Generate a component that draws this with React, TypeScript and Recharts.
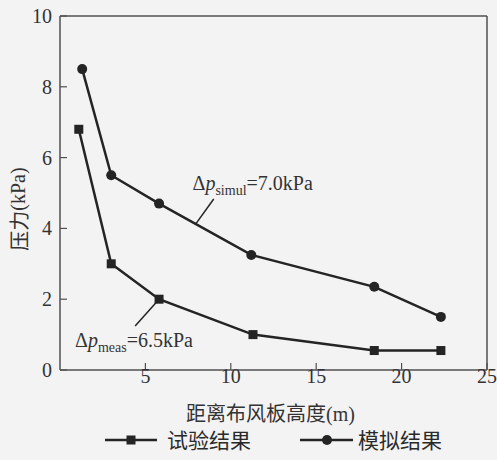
import React from 'react';
import { LineChart, Line, XAxis, YAxis, ReferenceLine, ReferenceDot } from 'recharts';

const heightsMeas = [1.1, 3.0, 5.8, 11.3, 18.4, 22.3];
const pressureMeas = [6.8, 3.0, 2.0, 1.0, 0.55, 0.55];
const heightsSimul = [1.3, 3.0, 5.8, 11.2, 18.4, 22.3];
const pressureSimul = [8.5, 5.5, 4.7, 3.25, 2.35, 1.5];
const xTicks = [5, 10, 15, 20, 25];
const yTicks = [0, 2, 4, 6, 8, 10];
const seriesNames = ['试验结果', '模拟结果'];
const xLabelText = '距离布风板高度';
const xLabelUnit = '(m)';
const yLabelText = '压力';
const yLabelUnit = '(kPa)';

const measData = heightsMeas.map((x, i) => ({ x, y: pressureMeas[i] }));
const simulData = heightsSimul.map((x, i) => ({ x, y: pressureSimul[i] }));

const INK = '#242424';
const AXIS = '#505050';
const SERIF = 'Liberation Serif';
const CJK = 'Noto Sans CJK SC';

const SquareDot = (p: any) => (
  <rect x={p.cx - 4.5} y={p.cy - 4.5} width={9} height={9} fill={INK} />
);
const CircleDot = (p: any) => <circle cx={p.cx} cy={p.cy} r={5} fill={INK} />;

const Annot = (sub: string, val: string) => (p: any) => (
  <text x={p.cx} y={p.cy} fontFamily={SERIF} fontSize={20} fill="#333">
    <tspan>Δ</tspan>
    <tspan fontStyle="italic">p</tspan>
    <tspan fontSize={14} dy={5}>{sub}</tspan>
    <tspan dy={-5}>{val}</tspan>
  </text>
);

const XTick = (p: any) => (
  <text x={p.x} y={p.y + 7} textAnchor="middle" fontFamily={SERIF} fontSize={20} fill="#333">
    {p.payload.value}
  </text>
);
const YTick = (p: any) => (
  <text x={p.x + 2} y={p.y + 7} textAnchor="end" fontFamily={SERIF} fontSize={20} fill="#333">
    {p.payload.value}
  </text>
);

const LegendBox = () => (
  <svg width={497} height={30} style={{ position: 'absolute', left: 0, top: 425 }}>
    <line x1={105} y1={15} x2={157} y2={15} stroke={INK} strokeWidth={2.5} />
    <rect x={126.5} y={10.5} width={9} height={9} fill={INK} />
    <text x={167} y={23} fontFamily={CJK} fontSize={21} fill="#2a2a2a">{seriesNames[0]}</text>
    <line x1={300} y1={15} x2={353} y2={15} stroke={INK} strokeWidth={2.5} />
    <circle cx={327} cy={15} r={5} fill={INK} />
    <text x={358} y={23} fontFamily={CJK} fontSize={21} fill="#2a2a2a">{seriesNames[1]}</text>
  </svg>
);

export default function App() {
  return (
    <div style={{ position: 'absolute', left: 0, top: 0, width: 497, height: 460, background: '#f3f3f3' }}>
      <LineChart width={497} height={460} margin={{ top: 16, right: 10, left: 0, bottom: 0 }}>
        <XAxis
          dataKey="x"
          type="number"
          domain={[0, 25]}
          ticks={xTicks}
          allowDataOverflow
          height={90}
          tickSize={-7}
          tickMargin={13}
          axisLine={{ stroke: AXIS, strokeWidth: 1.5 }}
          tickLine={{ stroke: AXIS, strokeWidth: 1.2 }}
          tick={<XTick />}
          label={(props: any) => {
            const vb = props.viewBox;
            return (
              <text x={vb.x + vb.width / 2 - 3} y={vb.y + 51} textAnchor="middle" fontSize={20} fill="#333">
                <tspan fontFamily={CJK}>{xLabelText}</tspan>
                <tspan fontFamily={SERIF}>{xLabelUnit}</tspan>
              </text>
            );
          }}
        />
        <YAxis
          dataKey="y"
          type="number"
          domain={[0, 10]}
          ticks={yTicks}
          width={60}
          tickSize={-7}
          tickMargin={17}
          axisLine={{ stroke: AXIS, strokeWidth: 1.5 }}
          tickLine={{ stroke: AXIS, strokeWidth: 1.2 }}
          tick={<YTick />}
          label={(props: any) => {
            const vb = props.viewBox;
            const cx = 18;
            const cy = vb.y + vb.height / 2 + 16;
            return (
              <text x={cx} y={cy} transform={`rotate(-90 ${cx} ${cy})`} textAnchor="middle" dominantBaseline="central" fontSize={20} fill="#333">
                <tspan fontFamily={CJK}>{yLabelText}</tspan>
                <tspan fontFamily={SERIF}>{yLabelUnit}</tspan>
              </text>
            );
          }}
        />
        <ReferenceLine y={10} stroke={AXIS} strokeWidth={1.5} />
        <ReferenceLine x={25} stroke={AXIS} strokeWidth={1.5} />
        <ReferenceLine segment={[{ x: 7.94, y: 4.12 }, { x: 9.0, y: 4.83 }]} stroke={INK} strokeWidth={1.5} />
        <ReferenceLine segment={[{ x: 4.4, y: 1.24 }, { x: 5.8, y: 2.0 }]} stroke={INK} strokeWidth={1.5} />
        <Line data={measData} dataKey="y" name={seriesNames[0]} stroke={INK} strokeWidth={2.5} dot={<SquareDot />} isAnimationActive={false} />
        <Line data={simulData} dataKey="y" name={seriesNames[1]} stroke={INK} strokeWidth={2.5} dot={<CircleDot />} isAnimationActive={false} />
        <ReferenceDot x={7.76} y={5.08} r={0} shape={Annot('simul', '=7.0kPa')} />
        <ReferenceDot x={0.88} y={0.65} r={0} shape={Annot('meas', '=6.5kPa')} />
      </LineChart>
      <LegendBox />
    </div>
  );
}
